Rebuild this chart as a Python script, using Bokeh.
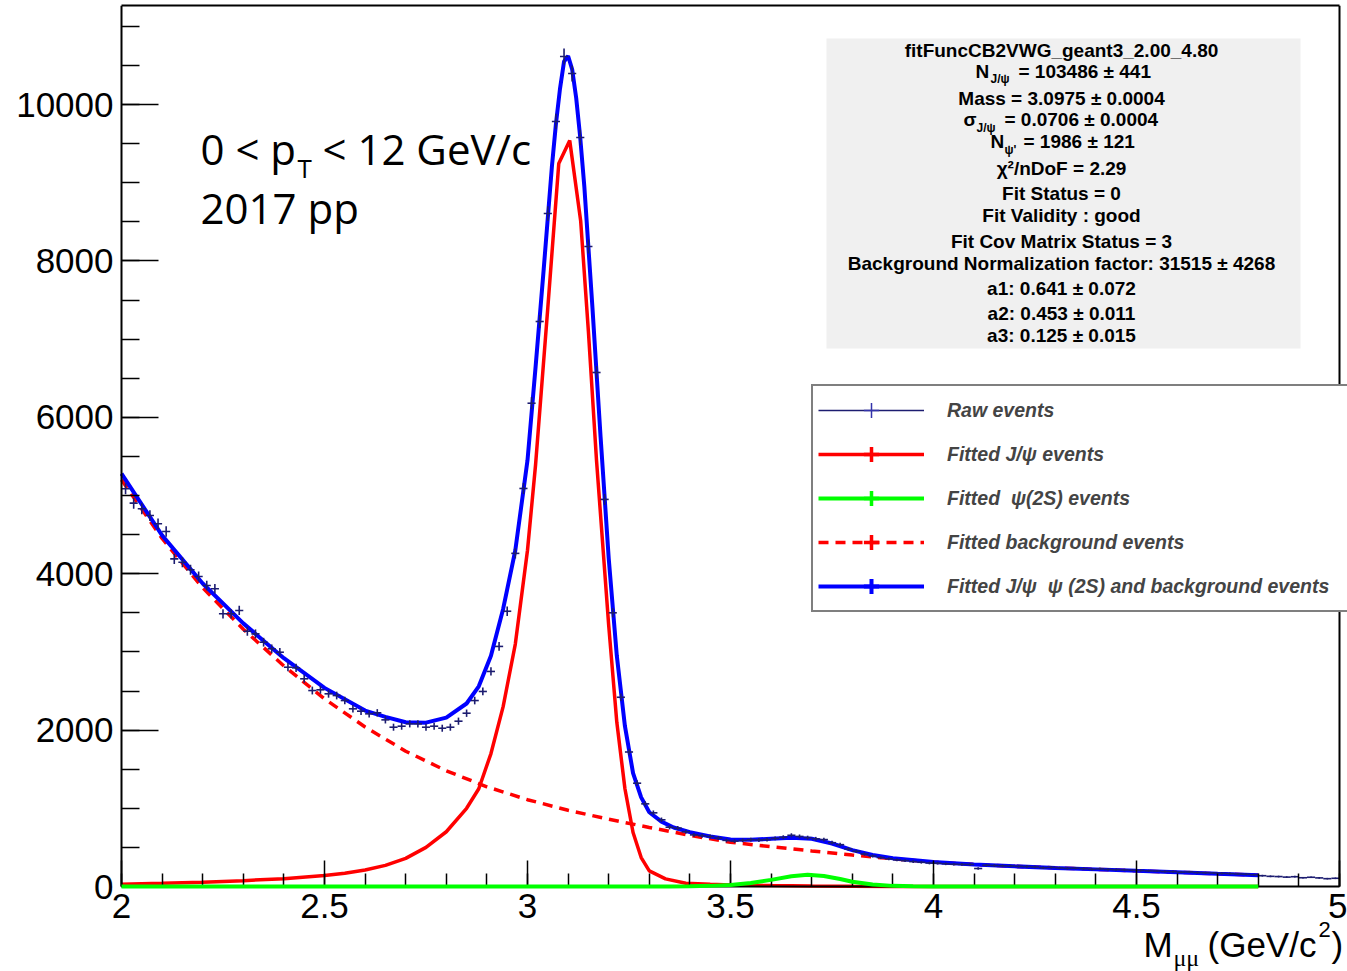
import math
from bokeh.plotting import figure
from bokeh.models import (Range1d, FixedTicker, Label, BoxAnnotation, Legend,
                          LegendItem, ColumnDataSource, LinearAxis)
from bokeh.embed import file_html
from bokeh.resources import INLINE

# ---------------- data ----------------
bin_width = 0.02
bin_centers = [round(2.01 + bin_width * i, 2) for i in range(150)]
raw_counts = [
    5086, 4902, 4830, 4744, 4638, 4540, 4190, 4147, 4050, 3964,
    3849, 3807, 3487, 3487, 3530, 3265, 3231, 3124, 3040, 2996,
    2804, 2796, 2656, 2506, 2515, 2464, 2442, 2378, 2272, 2242,
    2208, 2221, 2131, 2037, 2050, 2080, 2080, 2037, 2050, 2024,
    2037, 2114, 2216, 2378, 2494,
    2750, 3070, 3520, 4260, 5090, 6180, 7225, 8606, 9783, 10614,
    10396, 9578, 8184, 6573, 4950, 3500, 2420, 1720, 1321, 1057,
    942, 853, 758, 746,
    700, 660, 650, 640, 620, 590, 580, 590, 600, 595,
    600, 615, 630, 655, 640, 625, 610, 600, 560, 535,
    480, 450, 415, 390, 370, 355, 340, 330, 318, 310, 300,
    298, 290, 285, 283, 282, 230, 272, 268, 265, 262,
    258, 255, 250, 240, 245, 238, 232, 235, 228, 220,
    225, 218, 215, 212, 208, 205, 200, 198, 192, 190,
    183, 186, 178, 175, 172, 168, 165, 160, 157, 150,
    138, 130, 127, 120, 125, 112, 118, 110, 100, 105,
]

total_x = [2.0, 2.1, 2.2, 2.3, 2.4, 2.5, 2.6, 2.65, 2.7, 2.75, 2.8, 2.85, 2.88,
           2.91, 2.94, 2.97, 3.0, 3.02, 3.04, 3.06, 3.07, 3.08, 3.09, 3.10, 3.11,
           3.12, 3.13, 3.14, 3.16, 3.18, 3.20, 3.22, 3.24, 3.26, 3.28, 3.30, 3.33,
           3.36, 3.40, 3.45, 3.50, 3.55, 3.60, 3.65, 3.70, 3.75, 3.80, 3.85, 3.90,
           4.0, 4.1, 4.2, 4.3, 4.4, 4.5, 4.6, 4.7, 4.8]
total_y = [5280, 4490, 3875, 3365, 2920, 2540, 2250, 2170, 2100, 2095, 2160, 2340, 2560,
           2950, 3550, 4300, 5450, 6650, 7900, 9200, 9750, 10200, 10550, 10620, 10450,
           10080, 9570, 8950, 7400, 5750, 4200, 2950, 2050, 1450, 1140, 950, 830,
           755, 695, 640, 600, 598, 610, 622, 610, 550, 465, 403, 362,
           312, 282, 258, 238, 219, 200, 182, 163, 145]

jpsi_x = [2.0, 2.1, 2.2, 2.3, 2.4, 2.5, 2.55, 2.6, 2.65, 2.7, 2.75, 2.8, 2.85, 2.88,
          2.91, 2.94, 2.97, 3.0, 3.02, 3.05, 3.077, 3.104, 3.131, 3.15, 3.17, 3.2,
          3.22, 3.24, 3.26, 3.28, 3.30, 3.34, 3.39, 3.45, 3.5, 3.6, 3.7, 3.8, 3.9,
          4.0, 4.8]
jpsi_y = [30, 40, 55, 75, 100, 140, 170, 210, 270, 360, 500, 700, 1000, 1250,
          1700, 2300, 3100, 4300, 5400, 7400, 9245, 9540, 8510, 7100, 5450, 3340,
          2100, 1250, 690, 370, 200, 98, 42, 28, 20, 12, 6, 3, 1,
          0, 0]

psi2s_x = [2.0, 3.35, 3.40, 3.45, 3.50, 3.55, 3.60, 3.65, 3.69, 3.73, 3.77, 3.80,
           3.85, 3.90, 3.95, 4.00, 4.80]
psi2s_y = [0, 0, 3, 8, 20, 45, 85, 130, 150, 135, 95, 60, 25, 8, 2, 0, 0]

bkg_x = [2.0, 2.1, 2.2, 2.3, 2.4, 2.5, 2.6, 2.7, 2.8, 2.9, 3.0, 3.1, 3.2, 3.3, 3.4,
         3.5, 3.6, 3.7, 3.8, 3.9, 4.0, 4.1, 4.2, 4.3, 4.4, 4.5, 4.6, 4.7, 4.8]
bkg_y = [5200, 4450, 3820, 3290, 2820, 2400, 2040, 1730, 1480, 1275, 1110, 975, 860,
         755, 655, 565, 510, 455, 402, 355, 312, 282, 258, 238, 219, 200, 182, 163, 145]

x_major = [2, 2.5, 3, 3.5, 4, 4.5, 5]
x_minor = [round(2 + 0.1 * i, 1) for i in range(31)]
y_major = [0, 2000, 4000, 6000, 8000, 10000]
y_minor = [500 * i for i in range(23)]

stats_lines = [
    "fitFuncCB2VWG_geant3_2.00_4.80",
    None,
    "Mass = 3.0975 \u00b1 0.0004",
    None,
    None,
    "\u03c7\u00b2/nDoF = 2.29",
    "Fit Status = 0",
    "Fit Validity : good",
    "Fit Cov Matrix Status = 3",
    "Background Normalization factor: 31515 \u00b1 4268",
    "a1: 0.641 \u00b1 0.072",
    "a2: 0.453 \u00b1 0.011",
    "a3: 0.125 \u00b1 0.015",
]
legend_labels = ["Raw events", "Fitted J/\u03c8 events", "Fitted  \u03c8(2S) events",
                 "Fitted background events",
                 "Fitted J/\u03c8  \u03c8 (2S) and background events"]

# ---------------- figure ----------------
# The frame covers the whole canvas below y=5 px; the axes sit at fixed data
# locations (x = 2 at 121 px, y = 0 at 886 px) so that all texts stay visible.
W, H = 1347, 971
AX_L, AX_R, AX_T, AX_B = 121, 1339, 5, 886       # axis box in page pixels
XMIN, XMAX = 2.0, 5.0
PX_PER_X = (AX_R - AX_L) / (XMAX - XMIN)
PX_PER_COUNT = 0.0782
FT = AX_T
X0 = XMIN - AX_L / PX_PER_X
X1 = XMAX + (W - AX_R) / PX_PER_X
Y1 = (AX_B - FT) / PX_PER_COUNT
Y0 = -(H - AX_B) / PX_PER_COUNT

p = figure(width=W, height=H, output_backend="svg", toolbar_location=None,
           x_range=Range1d(X0, X1), y_range=Range1d(Y0, Y1))
p.min_border_left = 0
p.min_border_right = 0
p.min_border_top = FT
p.min_border_bottom = 0
p.xgrid.visible = False
p.ygrid.visible = False
p.outline_line_color = None
p.background_fill_color = "white"
p.border_fill_color = "white"


def px_x(px):
    return XMIN + (px - AX_L) / PX_PER_X


def px_y(py):
    return (AX_B - py) / PX_PER_COUNT


for ax, major, minor, tin, tmin in ((p.xaxis[0], x_major, x_minor, 26, 13),
                                      (p.yaxis[0], y_major, y_minor, 37, 18)):
    ax.ticker = FixedTicker(ticks=major, minor_ticks=minor)
    ax.major_tick_in = tin
    ax.major_tick_out = 0
    ax.minor_tick_in = tmin
    ax.minor_tick_out = 0
    ax.major_tick_line_width = 1.5
    ax.minor_tick_line_width = 1.5
    ax.axis_line_width = 2
    ax.major_label_text_font = "Liberation Sans"
    ax.major_label_text_font_size = "35px"
    ax.major_label_text_color = "black"
p.xaxis.fixed_location = 0
p.xaxis.bounds = (XMIN, XMAX)
p.yaxis.fixed_location = XMIN
p.yaxis.bounds = (0, Y1)
p.xaxis.major_label_standoff = 7
p.yaxis.major_label_standoff = 8
p.xaxis.major_label_overrides = {2: "2", 2.5: "2.5", 3: "3", 3.5: "3.5", 4: "4",
                                 4.5: "4.5", 5: "5"}

# plain frame lines on the top and right
top = LinearAxis(ticker=FixedTicker(ticks=[]), major_tick_in=0, major_tick_out=0,
                 minor_tick_in=0, minor_tick_out=0, major_label_standoff=0,
                 major_label_text_font_size="0px", axis_line_width=2,
                 axis_line_color="black", bounds=(XMIN, XMAX))
p.add_layout(top, "above")
right = LinearAxis(ticker=FixedTicker(ticks=[]), major_tick_in=0, major_tick_out=0,
                   minor_tick_in=0, minor_tick_out=0, major_label_standoff=0,
                   major_label_text_font_size="0px", axis_line_width=2,
                   axis_line_color="black", bounds=(0, Y1), fixed_location=XMAX)
p.add_layout(right, "right")

# curves
RED, GREEN, BLUE, RAW = "#ff0000", "#00ff00", "#0000ff", "#1c1c70"
r_bkg = p.line(bkg_x, bkg_y, line_color=RED, line_width=3.5, line_dash="10 7")
r_jpsi = p.line(jpsi_x, jpsi_y, line_color=RED, line_width=3.5)
r_psi = p.line(psi2s_x, psi2s_y, line_color=GREEN, line_width=4, level="overlay")
r_tot = p.line(total_x, total_y, line_color=BLUE, line_width=4)

# raw data crosses
err = [math.sqrt(c) for c in raw_counts]
src = ColumnDataSource(dict(
    x=bin_centers, y=raw_counts,
    xl=[c - bin_width / 2 for c in bin_centers],
    xr=[c + bin_width / 2 for c in bin_centers],
    yl=[c - e for c, e in zip(raw_counts, err)],
    yh=[c + e for c, e in zip(raw_counts, err)],
))
r_raw_h = p.segment(x0="xl", y0="y", x1="xr", y1="y", source=src,
                    line_color=RAW, line_width=1.6)
r_raw_v = p.segment(x0="x", y0="yl", x1="x", y1="yh", source=src,
                    line_color=RAW, line_width=1.6)

# zero-size markers: invisible on the plot, they give the legend its error-bar ticks
m_raw = p.scatter(x="x", y="y", source=src, marker="cross", size=0,
                  line_color="#3333aa", line_width=1.5)
m_jpsi = p.scatter(jpsi_x, jpsi_y, marker="cross", size=0, line_color=RED, line_width=3.5)
m_psi = p.scatter(psi2s_x, psi2s_y, marker="cross", size=0, line_color=GREEN, line_width=3.5)
m_bkg = p.scatter(bkg_x, bkg_y, marker="cross", size=0, line_color=RED, line_width=3.5)
m_tot = p.scatter(total_x, total_y, marker="cross", size=0, line_color=BLUE, line_width=4)

# stats box
p.add_layout(BoxAnnotation(left=px_x(826), right=px_x(1300), top=px_y(38), bottom=px_y(348),
                           fill_color="#f0f0f0", fill_alpha=1.0, line_alpha=0.0,
                           level="annotation"))
stat_y = [50, 71, 98, 119, 141, 167.5, 192.5, 215, 241, 262.5, 288, 312.5, 335]
SF = "Liberation Sans"


def lab(text, x, y, size="19px", align="left", font=SF, style="bold"):
    p.add_layout(Label(x=x, y=y, text=text, text_font=font, text_font_size=size,
                       text_font_style=style, text_align=align, text_baseline="middle",
                       text_color="black"))


for t, yy in zip(stats_lines, stat_y):
    if t is not None:
        lab(t, px_x(1061), px_y(yy), align="center")
# lines with subscripts
lab("N", px_x(975), px_y(71))
lab("J/\u03c8", px_x(990), px_y(78), size="12px")
lab("= 103486 \u00b1 441", px_x(1018), px_y(71))
lab("\u03c3", px_x(963), px_y(119))
lab("J/\u03c8", px_x(976), px_y(127), size="12px")
lab("= 0.0706 \u00b1 0.0004", px_x(1004), px_y(119))
lab("N", px_x(990), px_y(141))
lab("\u03c8'", px_x(1004), px_y(149), size="12px")
lab("= 1986 \u00b1 121", px_x(1023), px_y(141))

# kinematic labels
OS = "Open Sans"
lab("0 < p", px_x(200), px_y(148), size="42px", font=OS, style="normal")
lab("T", px_x(297), px_y(167), size="26px", font=OS, style="normal")
lab("< 12 GeV/c", px_x(322), px_y(148), size="42px", font=OS, style="normal")
lab("2017 pp", px_x(200), px_y(207), size="42px", font=OS, style="normal")

# x-axis title
lab("M", px_x(1143), px_y(944), size="35px", style="normal")
lab("\u03bc\u03bc", px_x(1173), px_y(957), size="24px", font="Liberation Serif", style="normal")
lab("(GeV/c", px_x(1207), px_y(944), size="35px", style="normal")
lab("2", px_x(1318), px_y(929), size="22px", style="normal")
lab(")", px_x(1331), px_y(944), size="35px", style="normal")

# legend (location is measured from the frame's bottom-left corner)
legend = Legend(items=[
    LegendItem(label=legend_labels[0], renderers=[r_raw_h, m_raw]),
    LegendItem(label=legend_labels[1], renderers=[r_jpsi, m_jpsi]),
    LegendItem(label=legend_labels[2], renderers=[r_psi, m_psi]),
    LegendItem(label=legend_labels[3], renderers=[r_bkg, m_bkg]),
    LegendItem(label=legend_labels[4], renderers=[r_tot, m_tot]),
], location=(811, H - 612))
legend.padding = 5
legend.spacing = 6
legend.margin = 0
legend.glyph_height = 38
legend.label_height = 38
legend.glyph_width = 106
legend.label_standoff = 23
legend.label_width = 398
legend.label_text_font = SF
legend.label_text_font_size = "19.5px"
legend.label_text_font_style = "bold italic"
legend.label_text_baseline = "middle"
legend.border_line_color = "black"
legend.border_line_width = 2
legend.background_fill_color = "white"
legend.background_fill_alpha = 1.0
p.add_layout(legend)

open("out.html", "w").write(file_html(p, INLINE))
